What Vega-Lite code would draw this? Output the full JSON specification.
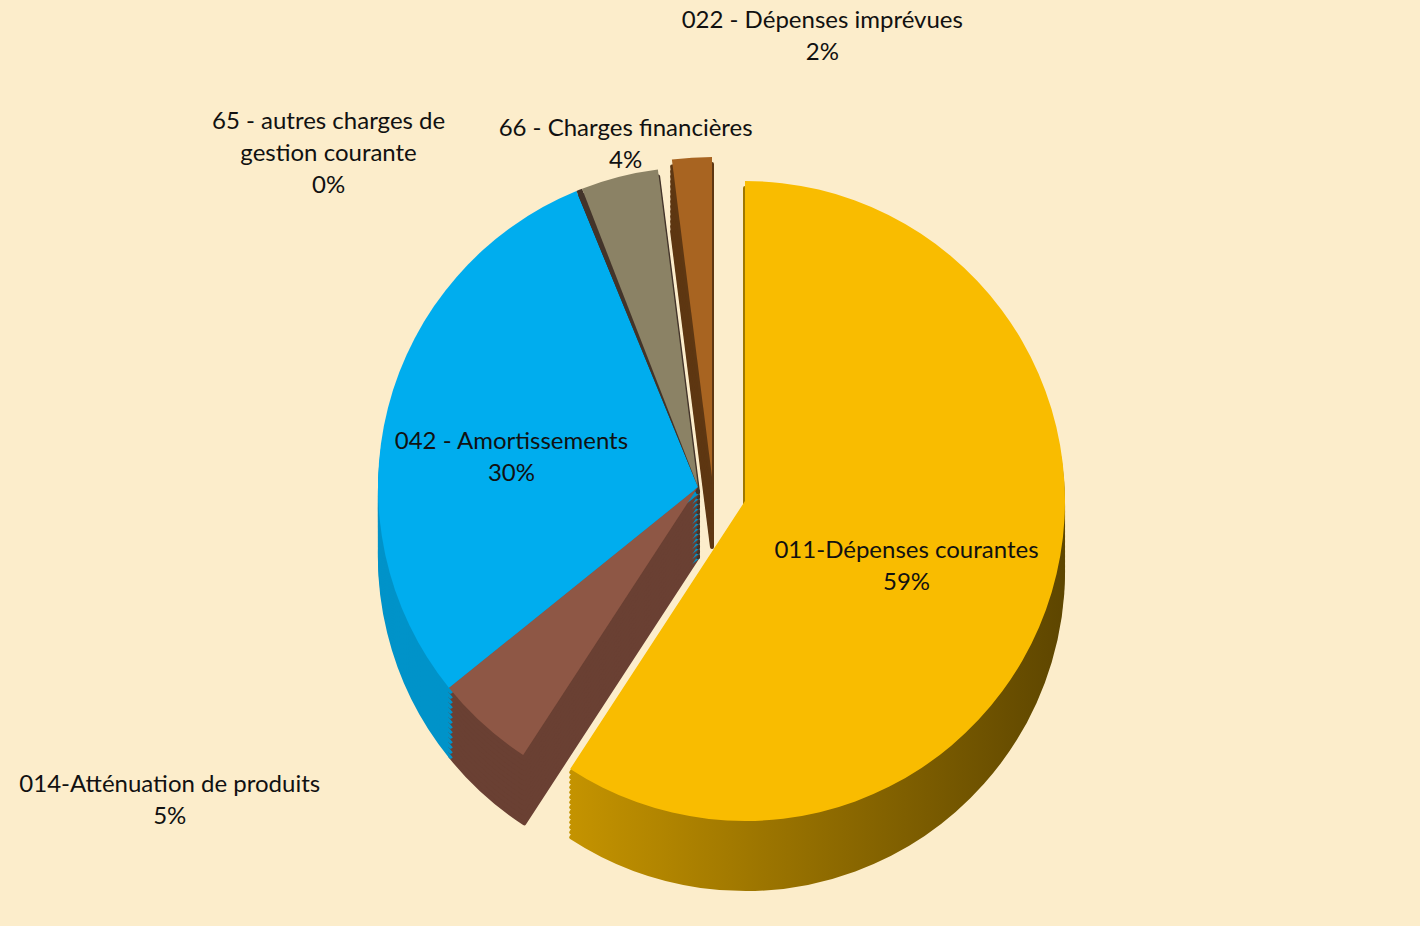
{
  "$schema": "https://vega.github.io/schema/vega-lite/v6.json",
  "width": 1420,
  "height": 866,
  "autosize": {"type": "none"},
  "padding": {"top": 60, "bottom": 0, "left": 0, "right": 0},
  "background": "#FCEDCB",
  "config": {"view": {"stroke": null}},
  "data": {
    "values": [
      {"code": "011", "name": "011-Dépenses courantes", "value": 59.2, "ord": 1},
      {"code": "014", "name": "014-Atténuation de produits", "value": 5.0, "ord": 2},
      {"code": "042", "name": "042 - Amortissements", "value": 29.6, "ord": 3},
      {"code": "65", "name": "65 - autres charges de\ngestion courante", "value": 0.3, "ord": 4},
      {"code": "66", "name": "66 - Charges financières", "value": 3.9, "ord": 5},
      {"code": "022", "name": "022 - Dépenses imprévues", "value": 2.0, "ord": 6}
    ]
  },
  "transform": [
    {"calculate": "datum.name + '\\n' + format(datum.value, '.0f') + '%'", "as": "label"}
  ],
  "encoding": {
    "theta": {"field": "value", "type": "quantitative", "stack": true},
    "order": {"field": "ord", "type": "quantitative"}
  },
  "layer": [
    {
      "encoding": {
        "color": {"field": "code", "type": "nominal", "scale": {"domain": ["011","014","042","65","66","022"], "range": ["#9C7600","#6A4033","#0093C9","#2E2219","#43342A","#5E3712"]}, "legend": null},
        "stroke": {"field": "code", "type": "nominal", "scale": {"domain": ["011","014","042","65","66","022"], "range": ["#9C7600","#6A4033","#0093C9","#2E2219","#43342A","#5E3712"]}, "legend": null}
      },
      "layer": [
        {"mark": {"type": "arc", "outerRadius": 318, "strokeWidth": 4, "strokeJoin": "round", "xOffset": -12, "yOffset": 64}, "encoding": {"opacity": {"condition": {"test": "datum.code !== '011' && datum.code !== '022'", "value": 1}, "value": 0}}},
        {"mark": {"type": "arc", "outerRadius": 318, "strokeWidth": 4, "strokeJoin": "round", "xOffset": -12, "yOffset": 59}, "encoding": {"opacity": {"condition": {"test": "datum.code !== '011' && datum.code !== '022'", "value": 1}, "value": 0}}},
        {"mark": {"type": "arc", "outerRadius": 318, "strokeWidth": 4, "strokeJoin": "round", "xOffset": -12, "yOffset": 54}, "encoding": {"opacity": {"condition": {"test": "datum.code !== '011' && datum.code !== '022'", "value": 1}, "value": 0}}},
        {"mark": {"type": "arc", "outerRadius": 318, "strokeWidth": 4, "strokeJoin": "round", "xOffset": -12, "yOffset": 49}, "encoding": {"opacity": {"condition": {"test": "datum.code !== '011' && datum.code !== '022'", "value": 1}, "value": 0}}},
        {"mark": {"type": "arc", "outerRadius": 318, "strokeWidth": 4, "strokeJoin": "round", "xOffset": -12, "yOffset": 44}, "encoding": {"opacity": {"condition": {"test": "datum.code !== '011' && datum.code !== '022'", "value": 1}, "value": 0}}},
        {"mark": {"type": "arc", "outerRadius": 318, "strokeWidth": 4, "strokeJoin": "round", "xOffset": -12, "yOffset": 39}, "encoding": {"opacity": {"condition": {"test": "datum.code !== '011' && datum.code !== '022'", "value": 1}, "value": 0}}},
        {"mark": {"type": "arc", "outerRadius": 318, "strokeWidth": 4, "strokeJoin": "round", "xOffset": -12, "yOffset": 34}, "encoding": {"opacity": {"condition": {"test": "datum.code !== '011' && datum.code !== '022'", "value": 1}, "value": 0}}},
        {"mark": {"type": "arc", "outerRadius": 318, "strokeWidth": 4, "strokeJoin": "round", "xOffset": -12, "yOffset": 29}, "encoding": {"opacity": {"condition": {"test": "datum.code !== '011' && datum.code !== '022'", "value": 1}, "value": 0}}},
        {"mark": {"type": "arc", "outerRadius": 318, "strokeWidth": 4, "strokeJoin": "round", "xOffset": -12, "yOffset": 24}, "encoding": {"opacity": {"condition": {"test": "datum.code !== '011' && datum.code !== '022'", "value": 1}, "value": 0}}},
        {"mark": {"type": "arc", "outerRadius": 318, "strokeWidth": 4, "strokeJoin": "round", "xOffset": -12, "yOffset": 19}, "encoding": {"opacity": {"condition": {"test": "datum.code !== '011' && datum.code !== '022'", "value": 1}, "value": 0}}},
        {"mark": {"type": "arc", "outerRadius": 318, "strokeWidth": 4, "strokeJoin": "round", "xOffset": -12, "yOffset": 14}, "encoding": {"opacity": {"condition": {"test": "datum.code !== '011' && datum.code !== '022'", "value": 1}, "value": 0}}},
        {"mark": {"type": "arc", "outerRadius": 318, "strokeWidth": 4, "strokeJoin": "round", "xOffset": -12, "yOffset": 9}, "encoding": {"opacity": {"condition": {"test": "datum.code !== '011' && datum.code !== '022'", "value": 1}, "value": 0}}},
        {"mark": {"type": "arc", "outerRadius": 318, "strokeWidth": 4, "strokeJoin": "round", "xOffset": -12, "yOffset": 4}, "encoding": {"opacity": {"condition": {"test": "datum.code !== '011' && datum.code !== '022'", "value": 1}, "value": 0}}},
        {"mark": {"type": "arc", "outerRadius": 318, "strokeWidth": 4, "strokeJoin": "round", "xOffset": -12, "yOffset": -1}, "encoding": {"opacity": {"condition": {"test": "datum.code !== '011' && datum.code !== '022'", "value": 1}, "value": 0}}},
        {"mark": {"type": "arc", "outerRadius": 318, "strokeWidth": 4, "strokeJoin": "round", "xOffset": 2, "yOffset": 54}, "encoding": {"opacity": {"condition": {"test": "datum.code === '022'", "value": 1}, "value": 0}}},
        {"mark": {"type": "arc", "outerRadius": 318, "strokeWidth": 4, "strokeJoin": "round", "xOffset": 2, "yOffset": 49}, "encoding": {"opacity": {"condition": {"test": "datum.code === '022'", "value": 1}, "value": 0}}},
        {"mark": {"type": "arc", "outerRadius": 318, "strokeWidth": 4, "strokeJoin": "round", "xOffset": 2, "yOffset": 44}, "encoding": {"opacity": {"condition": {"test": "datum.code === '022'", "value": 1}, "value": 0}}},
        {"mark": {"type": "arc", "outerRadius": 318, "strokeWidth": 4, "strokeJoin": "round", "xOffset": 2, "yOffset": 39}, "encoding": {"opacity": {"condition": {"test": "datum.code === '022'", "value": 1}, "value": 0}}},
        {"mark": {"type": "arc", "outerRadius": 318, "strokeWidth": 4, "strokeJoin": "round", "xOffset": 2, "yOffset": 34}, "encoding": {"opacity": {"condition": {"test": "datum.code === '022'", "value": 1}, "value": 0}}},
        {"mark": {"type": "arc", "outerRadius": 318, "strokeWidth": 4, "strokeJoin": "round", "xOffset": 2, "yOffset": 29}, "encoding": {"opacity": {"condition": {"test": "datum.code === '022'", "value": 1}, "value": 0}}},
        {"mark": {"type": "arc", "outerRadius": 318, "strokeWidth": 4, "strokeJoin": "round", "xOffset": 2, "yOffset": 24}, "encoding": {"opacity": {"condition": {"test": "datum.code === '022'", "value": 1}, "value": 0}}},
        {"mark": {"type": "arc", "outerRadius": 318, "strokeWidth": 4, "strokeJoin": "round", "xOffset": 2, "yOffset": 19}, "encoding": {"opacity": {"condition": {"test": "datum.code === '022'", "value": 1}, "value": 0}}},
        {"mark": {"type": "arc", "outerRadius": 318, "strokeWidth": 4, "strokeJoin": "round", "xOffset": 2, "yOffset": 14}, "encoding": {"opacity": {"condition": {"test": "datum.code === '022'", "value": 1}, "value": 0}}},
        {"mark": {"type": "arc", "outerRadius": 318, "strokeWidth": 4, "strokeJoin": "round", "xOffset": 2, "yOffset": 9}, "encoding": {"opacity": {"condition": {"test": "datum.code === '022'", "value": 1}, "value": 0}}},
        {"mark": {"type": "arc", "outerRadius": 318, "strokeWidth": 4, "strokeJoin": "round", "xOffset": 2, "yOffset": 4}, "encoding": {"opacity": {"condition": {"test": "datum.code === '022'", "value": 1}, "value": 0}}},
        {"mark": {"type": "arc", "outerRadius": 318, "strokeWidth": 4, "strokeJoin": "round", "xOffset": 2, "yOffset": -1}, "encoding": {"opacity": {"condition": {"test": "datum.code === '022'", "value": 1}, "value": 0}}},
        {"mark": {"type": "arc", "outerRadius": 318, "strokeWidth": 4, "strokeJoin": "round", "xOffset": 2, "yOffset": -6}, "encoding": {"opacity": {"condition": {"test": "datum.code === '022'", "value": 1}, "value": 0}}},
        {"mark": {"type": "arc", "outerRadius": 318, "strokeWidth": 4, "strokeJoin": "round", "xOffset": 2, "yOffset": -11}, "encoding": {"opacity": {"condition": {"test": "datum.code === '022'", "value": 1}, "value": 0}}}
      ]
    },
    {
      "mark": {"type": "arc", "outerRadius": 318, "strokeWidth": 4, "strokeJoin": "round",
        "fill": {"gradient": "linear", "x1": 0, "y1": 0, "x2": 1, "y2": 0, "stops": [{"offset": 0, "color": "#C49300"}, {"offset": 1, "color": "#5E4600"}]},
        "stroke": {"gradient": "linear", "x1": 0, "y1": 0, "x2": 1, "y2": 0, "stops": [{"offset": 0, "color": "#C49300"}, {"offset": 1, "color": "#5E4600"}]}},
      "encoding": {"opacity": {"condition": {"test": "datum.code === '011'", "value": 1}, "value": 0}},
      "layer": [
        {"mark": {"type": "arc", "outerRadius": 318, "strokeWidth": 4, "strokeJoin": "round", "xOffset": 35, "yOffset": 78, "fill": {"gradient": "linear", "x1": 0, "y1": 0, "x2": 1, "y2": 0, "stops": [{"offset": 0, "color": "#C49300"}, {"offset": 1, "color": "#5E4600"}]}, "stroke": {"gradient": "linear", "x1": 0, "y1": 0, "x2": 1, "y2": 0, "stops": [{"offset": 0, "color": "#C49300"}, {"offset": 1, "color": "#5E4600"}]}}},
        {"mark": {"type": "arc", "outerRadius": 318, "strokeWidth": 4, "strokeJoin": "round", "xOffset": 35, "yOffset": 73, "fill": {"gradient": "linear", "x1": 0, "y1": 0, "x2": 1, "y2": 0, "stops": [{"offset": 0, "color": "#C49300"}, {"offset": 1, "color": "#5E4600"}]}, "stroke": {"gradient": "linear", "x1": 0, "y1": 0, "x2": 1, "y2": 0, "stops": [{"offset": 0, "color": "#C49300"}, {"offset": 1, "color": "#5E4600"}]}}},
        {"mark": {"type": "arc", "outerRadius": 318, "strokeWidth": 4, "strokeJoin": "round", "xOffset": 35, "yOffset": 68, "fill": {"gradient": "linear", "x1": 0, "y1": 0, "x2": 1, "y2": 0, "stops": [{"offset": 0, "color": "#C49300"}, {"offset": 1, "color": "#5E4600"}]}, "stroke": {"gradient": "linear", "x1": 0, "y1": 0, "x2": 1, "y2": 0, "stops": [{"offset": 0, "color": "#C49300"}, {"offset": 1, "color": "#5E4600"}]}}},
        {"mark": {"type": "arc", "outerRadius": 318, "strokeWidth": 4, "strokeJoin": "round", "xOffset": 35, "yOffset": 63, "fill": {"gradient": "linear", "x1": 0, "y1": 0, "x2": 1, "y2": 0, "stops": [{"offset": 0, "color": "#C49300"}, {"offset": 1, "color": "#5E4600"}]}, "stroke": {"gradient": "linear", "x1": 0, "y1": 0, "x2": 1, "y2": 0, "stops": [{"offset": 0, "color": "#C49300"}, {"offset": 1, "color": "#5E4600"}]}}},
        {"mark": {"type": "arc", "outerRadius": 318, "strokeWidth": 4, "strokeJoin": "round", "xOffset": 35, "yOffset": 58, "fill": {"gradient": "linear", "x1": 0, "y1": 0, "x2": 1, "y2": 0, "stops": [{"offset": 0, "color": "#C49300"}, {"offset": 1, "color": "#5E4600"}]}, "stroke": {"gradient": "linear", "x1": 0, "y1": 0, "x2": 1, "y2": 0, "stops": [{"offset": 0, "color": "#C49300"}, {"offset": 1, "color": "#5E4600"}]}}},
        {"mark": {"type": "arc", "outerRadius": 318, "strokeWidth": 4, "strokeJoin": "round", "xOffset": 35, "yOffset": 53, "fill": {"gradient": "linear", "x1": 0, "y1": 0, "x2": 1, "y2": 0, "stops": [{"offset": 0, "color": "#C49300"}, {"offset": 1, "color": "#5E4600"}]}, "stroke": {"gradient": "linear", "x1": 0, "y1": 0, "x2": 1, "y2": 0, "stops": [{"offset": 0, "color": "#C49300"}, {"offset": 1, "color": "#5E4600"}]}}},
        {"mark": {"type": "arc", "outerRadius": 318, "strokeWidth": 4, "strokeJoin": "round", "xOffset": 35, "yOffset": 48, "fill": {"gradient": "linear", "x1": 0, "y1": 0, "x2": 1, "y2": 0, "stops": [{"offset": 0, "color": "#C49300"}, {"offset": 1, "color": "#5E4600"}]}, "stroke": {"gradient": "linear", "x1": 0, "y1": 0, "x2": 1, "y2": 0, "stops": [{"offset": 0, "color": "#C49300"}, {"offset": 1, "color": "#5E4600"}]}}},
        {"mark": {"type": "arc", "outerRadius": 318, "strokeWidth": 4, "strokeJoin": "round", "xOffset": 35, "yOffset": 43, "fill": {"gradient": "linear", "x1": 0, "y1": 0, "x2": 1, "y2": 0, "stops": [{"offset": 0, "color": "#C49300"}, {"offset": 1, "color": "#5E4600"}]}, "stroke": {"gradient": "linear", "x1": 0, "y1": 0, "x2": 1, "y2": 0, "stops": [{"offset": 0, "color": "#C49300"}, {"offset": 1, "color": "#5E4600"}]}}},
        {"mark": {"type": "arc", "outerRadius": 318, "strokeWidth": 4, "strokeJoin": "round", "xOffset": 35, "yOffset": 38, "fill": {"gradient": "linear", "x1": 0, "y1": 0, "x2": 1, "y2": 0, "stops": [{"offset": 0, "color": "#C49300"}, {"offset": 1, "color": "#5E4600"}]}, "stroke": {"gradient": "linear", "x1": 0, "y1": 0, "x2": 1, "y2": 0, "stops": [{"offset": 0, "color": "#C49300"}, {"offset": 1, "color": "#5E4600"}]}}},
        {"mark": {"type": "arc", "outerRadius": 318, "strokeWidth": 4, "strokeJoin": "round", "xOffset": 35, "yOffset": 33, "fill": {"gradient": "linear", "x1": 0, "y1": 0, "x2": 1, "y2": 0, "stops": [{"offset": 0, "color": "#C49300"}, {"offset": 1, "color": "#5E4600"}]}, "stroke": {"gradient": "linear", "x1": 0, "y1": 0, "x2": 1, "y2": 0, "stops": [{"offset": 0, "color": "#C49300"}, {"offset": 1, "color": "#5E4600"}]}}},
        {"mark": {"type": "arc", "outerRadius": 318, "strokeWidth": 4, "strokeJoin": "round", "xOffset": 35, "yOffset": 28, "fill": {"gradient": "linear", "x1": 0, "y1": 0, "x2": 1, "y2": 0, "stops": [{"offset": 0, "color": "#C49300"}, {"offset": 1, "color": "#5E4600"}]}, "stroke": {"gradient": "linear", "x1": 0, "y1": 0, "x2": 1, "y2": 0, "stops": [{"offset": 0, "color": "#C49300"}, {"offset": 1, "color": "#5E4600"}]}}},
        {"mark": {"type": "arc", "outerRadius": 318, "strokeWidth": 4, "strokeJoin": "round", "xOffset": 35, "yOffset": 23, "fill": {"gradient": "linear", "x1": 0, "y1": 0, "x2": 1, "y2": 0, "stops": [{"offset": 0, "color": "#C49300"}, {"offset": 1, "color": "#5E4600"}]}, "stroke": {"gradient": "linear", "x1": 0, "y1": 0, "x2": 1, "y2": 0, "stops": [{"offset": 0, "color": "#C49300"}, {"offset": 1, "color": "#5E4600"}]}}},
        {"mark": {"type": "arc", "outerRadius": 318, "strokeWidth": 4, "strokeJoin": "round", "xOffset": 35, "yOffset": 18, "fill": {"gradient": "linear", "x1": 0, "y1": 0, "x2": 1, "y2": 0, "stops": [{"offset": 0, "color": "#C49300"}, {"offset": 1, "color": "#5E4600"}]}, "stroke": {"gradient": "linear", "x1": 0, "y1": 0, "x2": 1, "y2": 0, "stops": [{"offset": 0, "color": "#C49300"}, {"offset": 1, "color": "#5E4600"}]}}},
        {"mark": {"type": "arc", "outerRadius": 318, "strokeWidth": 4, "strokeJoin": "round", "xOffset": 35, "yOffset": 13, "fill": {"gradient": "linear", "x1": 0, "y1": 0, "x2": 1, "y2": 0, "stops": [{"offset": 0, "color": "#C49300"}, {"offset": 1, "color": "#5E4600"}]}, "stroke": {"gradient": "linear", "x1": 0, "y1": 0, "x2": 1, "y2": 0, "stops": [{"offset": 0, "color": "#C49300"}, {"offset": 1, "color": "#5E4600"}]}}}
      ]
    },
    {
      "encoding": {
        "color": {"field": "code", "type": "nominal", "scale": {"domain": ["011","014","042","65","66","022"], "range": ["#F9BC00","#8E5745","#00ADEE","#43342A","#8B8265","#A86421"]}, "legend": null}
      },
      "layer": [
        {"mark": {"type": "arc", "outerRadius": 320, "xOffset": -12, "yOffset": -6}, "encoding": {"opacity": {"condition": {"test": "datum.code !== '011' && datum.code !== '022'", "value": 1}, "value": 0}}},
        {"mark": {"type": "arc", "outerRadius": 320, "xOffset": 2, "yOffset": -16}, "encoding": {"opacity": {"condition": {"test": "datum.code === '022'", "value": 1}, "value": 0}}},
        {"mark": {"type": "arc", "outerRadius": 320, "xOffset": 35, "yOffset": 8}, "encoding": {"opacity": {"condition": {"test": "datum.code === '011'", "value": 1}, "value": 0}}}
      ]
    },
    {
      "encoding": {"text": {"field": "label"}},
      "layer": [
        {"mark": {"type": "text", "radius": 205, "font": "Lato", "fontSize": 24, "lineBreak": "\n", "lineHeight": 32, "fill": "#111111", "align": "center", "baseline": "middle"}, "encoding": {"opacity": {"condition": {"test": "datum.code === '011' || datum.code === '042'", "value": 1}, "value": 0}}},
        {"mark": {"type": "text", "radius": 394, "dx": -276, "font": "Lato", "fontSize": 24, "lineBreak": "\n", "lineHeight": 32, "fill": "#111111", "align": "center", "baseline": "middle"}, "encoding": {"opacity": {"condition": {"test": "datum.code === '014'", "value": 1}, "value": 0}}},
        {"mark": {"type": "text", "radius": 400, "dx": -233, "font": "Lato", "fontSize": 24, "lineBreak": "\n", "lineHeight": 32, "fill": "#111111", "align": "center", "baseline": "middle"}, "encoding": {"opacity": {"condition": {"test": "datum.code === '65'", "value": 1}, "value": 0}}},
        {"mark": {"type": "text", "radius": 376, "dx": 8, "font": "Lato", "fontSize": 24, "lineBreak": "\n", "lineHeight": 32, "fill": "#111111", "align": "center", "baseline": "middle"}, "encoding": {"opacity": {"condition": {"test": "datum.code === '66'", "value": 1}, "value": 0}}},
        {"mark": {"type": "text", "radius": 473, "dx": 142, "font": "Lato", "fontSize": 24, "lineBreak": "\n", "lineHeight": 32, "fill": "#111111", "align": "center", "baseline": "middle"}, "encoding": {"opacity": {"condition": {"test": "datum.code === '022'", "value": 1}, "value": 0}}}
      ]
    }
  ],
  "resolve": {"scale": {"color": "independent"}}
}
